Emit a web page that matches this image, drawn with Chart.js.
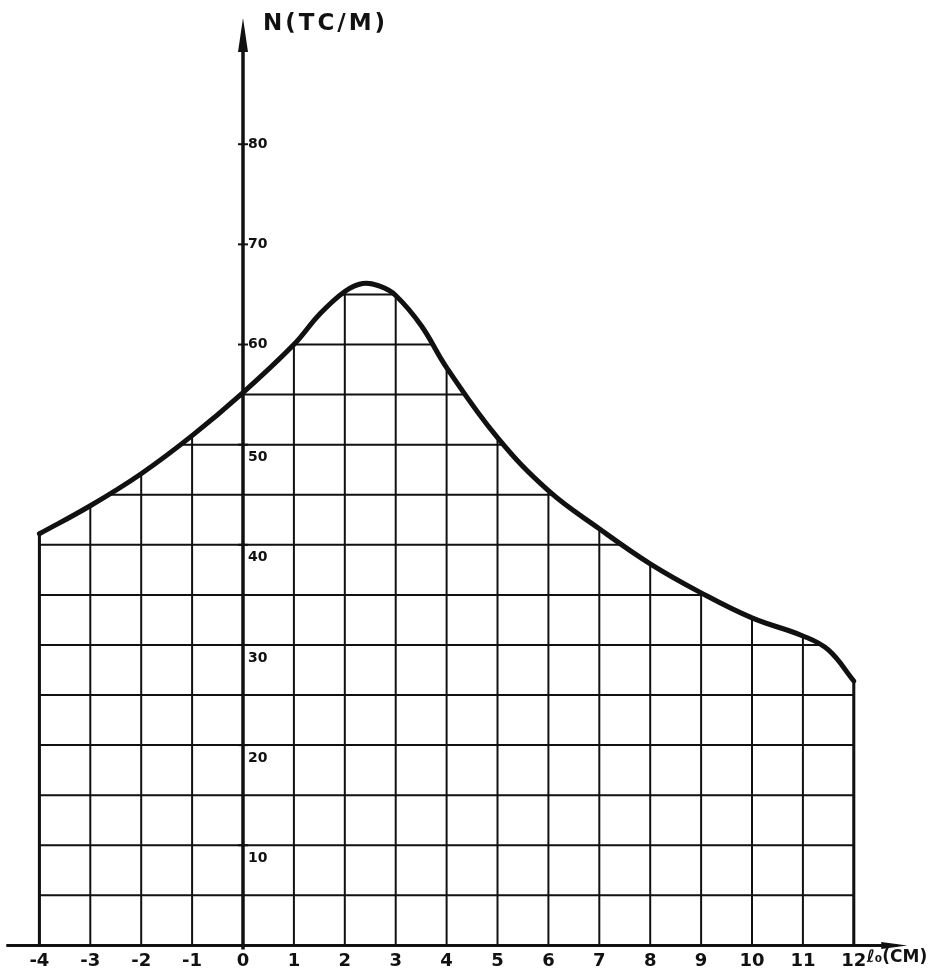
<!DOCTYPE html>
<html>
<head>
<meta charset="utf-8">
<script src="https://cdn.jsdelivr.net/npm/chart.js@4"></script>
<style>
  html, body { margin: 0; padding: 0; background: #fff; }
  canvas { display: block; }
</style>
</head>
<body>
<canvas id="chart" width="932" height="977"></canvas>
<script>
const lengths = [-4, -3, -2, -1, 0, 1, 1.5, 2, 2.35, 2.7, 3, 3.5, 4, 5, 6, 7, 8, 9, 10, 11, 11.5, 12];
const forces = [41.1, 43.9, 47.1, 50.9, 55.2, 60.0, 63.0, 65.3, 66.1, 65.8, 64.9, 61.9, 57.7, 50.7, 45.4, 41.6, 38.1, 35.2, 32.7, 30.9, 29.5, 26.4];

const xTicks = [-4, -3, -2, -1, 0, 1, 2, 3, 4, 5, 6, 7, 8, 9, 10, 11, 12];
const yTicks = [10, 20, 30, 40, 50, 60, 70, 80];
const gridSteps = [5, 10, 15, 20, 25, 30, 35, 40, 45, 50, 55, 60, 65];

const yTitle = "N(TC/M)";
const xTitle = "\u2113\u2080(CM)";

const INK = "#111";
const handFont = "DejaVu Sans";

// grille seulement sous la courbe
const gridUnderCurve = {
  id: "gridUnderCurve",
  beforeDatasetsDraw(chart) {
    const { ctx, scales: { x, y } } = chart;
    const line = chart.getDatasetMeta(0).dataset;
    const pts = chart.getDatasetMeta(0).data;
    const xa = x.getPixelForValue(lengths[0]);
    const xb = x.getPixelForValue(lengths[lengths.length - 1]);
    const y0 = y.getPixelForValue(0);

    ctx.save();
    ctx.beginPath();
    if (typeof line.path === "function") {
      line.path(ctx);
    } else {
      pts.forEach((p, i) => (i ? ctx.lineTo(p.x, p.y) : ctx.moveTo(p.x, p.y)));
    }
    ctx.lineTo(xb, y0);
    ctx.lineTo(xa, y0);
    ctx.closePath();
    ctx.clip();

    ctx.strokeStyle = INK;
    ctx.lineWidth = 2;
    ctx.beginPath();
    xTicks.forEach((v) => {
      const px = x.getPixelForValue(v);
      ctx.moveTo(px, y0);
      ctx.lineTo(px, 0);
    });
    gridSteps.forEach((v) => {
      const py = y.getPixelForValue(v);
      ctx.moveTo(xa, py);
      ctx.lineTo(xb, py);
    });
    ctx.stroke();
    ctx.restore();

    // bords gauche et droit
    ctx.save();
    ctx.strokeStyle = INK;
    ctx.lineWidth = 3;
    ctx.beginPath();
    ctx.moveTo(xa, y0);
    ctx.lineTo(xa, y.getPixelForValue(forces[0]));
    ctx.moveTo(xb, y0);
    ctx.lineTo(xb, y.getPixelForValue(forces[forces.length - 1]));
    ctx.stroke();
    ctx.restore();
  },
};

// axes dessinés à la main : fleches, graduations, titres
const handAxes = {
  id: "handAxes",
  afterDraw(chart) {
    const { ctx, scales: { x, y } } = chart;
    const xo = x.getPixelForValue(0);
    const y0 = y.getPixelForValue(0);
    ctx.save();
    ctx.strokeStyle = INK;
    ctx.fillStyle = INK;

    // axe des x
    const xStart = x.getPixelForValue(-4.65);
    const xTip = x.getPixelForValue(13.05);
    ctx.lineWidth = 3;
    ctx.beginPath();
    ctx.moveTo(xStart, y0);
    ctx.lineTo(xTip - 10, y0);
    ctx.stroke();
    ctx.beginPath();
    ctx.moveTo(xTip, y0);
    ctx.lineTo(xTip - 26, y0 - 3.5);
    ctx.lineTo(xTip - 26, y0 + 3.5);
    ctx.closePath();
    ctx.fill();

    // axe des y
    const yTip = y.getPixelForValue(92.6);
    ctx.lineWidth = 3.5;
    ctx.beginPath();
    ctx.moveTo(xo, y0 + 4);
    ctx.lineTo(xo, yTip + 20);
    ctx.stroke();
    ctx.beginPath();
    ctx.moveTo(xo, yTip);
    ctx.lineTo(xo - 5, yTip + 34);
    ctx.lineTo(xo + 5, yTip + 34);
    ctx.closePath();
    ctx.fill();

    // graduations et valeurs
    ctx.lineWidth = 2;
    ctx.font = "bold 14px '" + handFont + "'";
    ctx.textAlign = "left";
    ctx.textBaseline = "middle";
    yTicks.forEach((v) => {
      const py = y.getPixelForValue(v);
      ctx.beginPath();
      ctx.moveTo(xo - 5, py);
      ctx.lineTo(xo + 5, py);
      ctx.stroke();
      ctx.fillText(String(v), xo + 5, v <= 50 ? py + 13 : py);
    });

    // titres
    ctx.font = "bold 23px '" + handFont + "'";
    if ("letterSpacing" in ctx) ctx.letterSpacing = "3px";
    ctx.fillText(yTitle, xo + 20, 24);
    ctx.font = "bold 17px '" + handFont + "'";
    if ("letterSpacing" in ctx) ctx.letterSpacing = "0px";
    ctx.fillText(xTitle, x.getPixelForValue(12) + 13, 958);
    ctx.restore();
  },
};

new Chart(document.getElementById("chart"), {
  type: "line",
  data: {
    datasets: [
      {
        data: lengths.map((l, i) => ({ x: l, y: forces[i] })),
        borderColor: INK,
        borderWidth: 5,
        borderCapStyle: "round",
        borderJoinStyle: "round",
        tension: 0.4,
        pointRadius: 0,
        fill: false,
      },
    ],
  },
  options: {
    responsive: false,
    animation: false,
    layout: { padding: { left: 0, right: 0, top: 0, bottom: 0 } },
    plugins: { legend: { display: false }, tooltip: { enabled: false } },
    scales: {
      x: {
        type: "linear",
        min: -4.774,
        max: 13.536,
        grid: { display: false, drawTicks: false },
        border: { display: false },
        afterBuildTicks: (scale) => {
          scale.ticks = xTicks.map((v) => ({ value: v }));
        },
        ticks: {
          color: INK,
          padding: 5,
          maxRotation: 0,
          autoSkip: false,
          font: { family: handFont, size: 18, weight: "bold" },
          callback: (v) => String(v),
        },
      },
      y: {
        type: "linear",
        display: false,
        min: 0,
        max: 94.4,
      },
    },
  },
  plugins: [gridUnderCurve, handAxes],
});
</script>
</body>
</html>
